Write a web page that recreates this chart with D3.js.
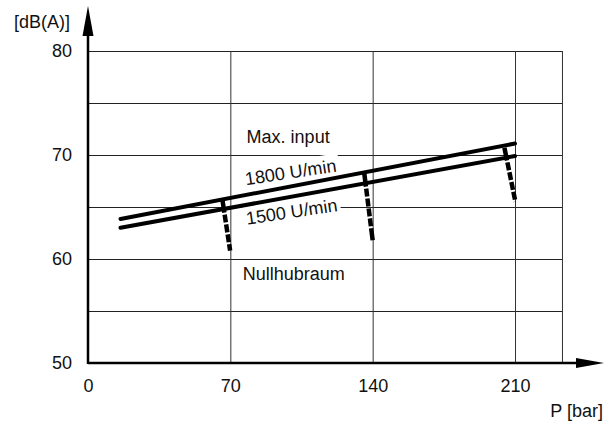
<!DOCTYPE html>
<html>
<head>
<meta charset="utf-8">
<script src="https://cdn.jsdelivr.net/npm/d3@7"></script>
<style>
  body { margin: 0; background: #fff; }
  text { font-family: "Liberation Sans", Arial, sans-serif; font-size: 18px; fill: #111; }
</style>
</head>
<body>
<div id="chart"></div>
<script>
// values
var pressure = [16, 210];             // P [bar], start and end of both lines
var maxInput1800 = [63.85, 71.1];     // dB(A) at 1800 U/min
var speed1500 = [63.0, 69.9];         // dB(A) at 1500 U/min

// Nullhubraum (dashed drops)
var nullFromP = [66.1, 135.9, 204.8];
var nullFromDb = [65.7, 68.2, 70.7];
var nullToP = [69.9, 140.0, 210.2];
var nullToDb = [60.8, 61.8, 65.5];

var xTicks = [0, 70, 140, 210];
var xGrid = [70, 140, 210, 233.1];
var yTicks = [50, 60, 70, 80];
var yGrid = [55, 60, 65, 70, 75, 80];

var width = 611, height = 425;

var x = d3.scaleLinear().domain([0, 210]).range([88, 515]);
var y = d3.scaleLinear().domain([50, 80]).range([363, 51]);

var svg = d3.select("#chart").append("svg")
  .attr("width", width)
  .attr("height", height);

// grid
svg.append("g")
  .attr("transform", "translate(" + x(0) + ",0)")
  .call(d3.axisRight(y).tickValues(yGrid).tickSize(x(233.1) - x(0)).tickFormat(""))
  .call(function(g) { g.select(".domain").remove(); })
  .selectAll("line").attr("stroke", "#222").attr("stroke-width", 1);

svg.append("g")
  .attr("transform", "translate(0," + y(80) + ")")
  .call(d3.axisBottom(x).tickValues(xGrid).tickSize(y(50) - y(80)).tickFormat(""))
  .call(function(g) { g.select(".domain").remove(); })
  .selectAll("line").attr("stroke", "#333").attr("stroke-width", 1);

// tick labels
svg.append("g")
  .attr("transform", "translate(" + x(0) + ",0)")
  .call(d3.axisLeft(y).tickValues(yTicks).tickSize(0).tickPadding(16))
  .call(function(g) {
    g.select(".domain").remove();
    g.selectAll("text").attr("font-size", 18).attr("font-family", "Liberation Sans, Arial, sans-serif").attr("fill", "#111");
  });

svg.append("g")
  .attr("transform", "translate(0," + y(50) + ")")
  .call(d3.axisBottom(x).tickValues(xTicks).tickSize(0).tickPadding(16))
  .call(function(g) {
    g.select(".domain").remove();
    g.selectAll("text").attr("font-size", 18).attr("font-family", "Liberation Sans, Arial, sans-serif").attr("fill", "#111");
  });

// labels, with white boxes behind the rotated ones
function label(p, db, txt, angle, boxed) {
  var g = svg.append("g")
    .attr("transform", "translate(" + x(p) + "," + y(db) + ") rotate(" + angle + ")");
  var rect = g.append("rect").attr("fill", "#fff");
  var t = g.append("text").text(txt);
  if (boxed) {
    var b = t.node().getBBox();
    rect.attr("x", b.x - 3).attr("y", b.y - 2).attr("width", b.width + 6).attr("height", b.height + 3);
  } else {
    rect.remove();
  }
}
label(78.0, 71.15, "Max. input", 0, false);
label(77.7, 67.1, "1800 U/min", -8.5, true);
label(78.2, 63.3, "1500 U/min", -8.5, true);
label(76.1, 58.0, "Nullhubraum", 0, false);

// lines
var line = d3.line()
  .x(function(d) { return x(d[0]); })
  .y(function(d) { return y(d[1]); });

[maxInput1800, speed1500].forEach(function(vals) {
  svg.append("path")
    .datum(d3.zip(pressure, vals))
    .attr("d", line)
    .attr("fill", "none")
    .attr("stroke", "#000")
    .attr("stroke-width", 4)
    .attr("stroke-linecap", "round");
});

svg.selectAll(".nullstroke")
  .data(d3.range(nullFromP.length))
  .enter().append("path")
  .attr("class", "nullstroke")
  .attr("d", function(i) {
    return line([[nullFromP[i], nullFromDb[i]], [nullToP[i], nullToDb[i]]]);
  })
  .attr("fill", "none")
  .attr("stroke", "#000")
  .attr("stroke-width", 4.5)
  .attr("stroke-dasharray", "13,2,8,2,8,2,8,2,8,2");

// axes with arrows
svg.append("line")
  .attr("x1", x(0)).attr("y1", y(50))
  .attr("x2", 578).attr("y2", y(50))
  .attr("stroke", "#000").attr("stroke-width", 2.5);
svg.append("line")
  .attr("x1", x(0)).attr("y1", y(50) + 1)
  .attr("x2", x(0)).attr("y2", 34)
  .attr("stroke", "#000").attr("stroke-width", 2.5);
svg.append("path")
  .attr("d", "M576," + (y(50) - 5) + "L604," + y(50) + "L576," + (y(50) + 5) + "Z")
  .attr("fill", "#000");
svg.append("path")
  .attr("d", "M" + (x(0) - 5.5) + ",36L" + x(0) + ",6L" + (x(0) + 5.5) + ",36Z")
  .attr("fill", "#000");

// axis titles
svg.append("text").attr("x", 14).attr("y", 28).text("[dB(A)]");
svg.append("text").attr("x", 603).attr("y", 417).attr("text-anchor", "end").text("P [bar]");
</script>
</body>
</html>
